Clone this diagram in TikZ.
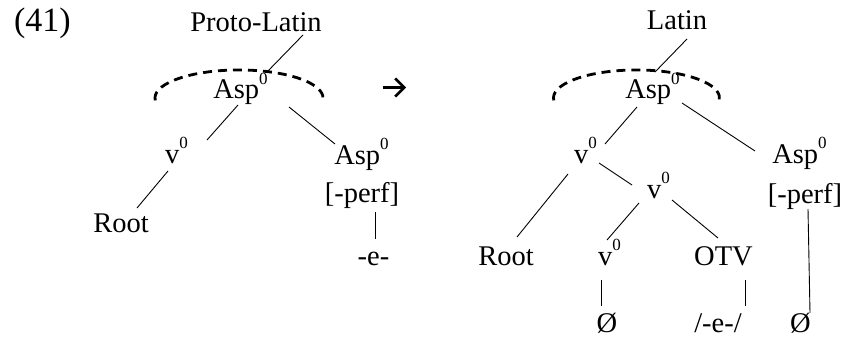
\documentclass[tikz,border=0pt]{standalone}
\usepackage{fontspec}
\usetikzlibrary{arrows.meta}
\setmainfont{Liberation Serif}
\newcommand\zsup[1]{\raisebox{0.52em}{\fontsize{17}{17}\selectfont #1}}
\tikzset{
  lbl/.style={anchor=base, inner sep=0pt, font=\fontsize{28.5}{34}\selectfont},
  edge/.style={line width=0.9pt},
  headarc/.style={line width=2.8pt, dash pattern=on 9pt off 6pt},
  change/.style={line width=2.6pt, -{Straight Barb[length=9pt, width=18pt, line width=2.6pt]}}
}
\begin{document}
\begin{tikzpicture}[x=1pt, y=-1pt]
\useasboundingbox (0,0) rectangle (846,337);

% example number and change arrow
\node[lbl, font=\fontsize{34}{40}\selectfont] (num) at (42.5,32) {(41)};
\coordinate (chgS) at (383,87.5);
\coordinate (chgE) at (406,87.5);
\draw[change] (chgS) -- (chgE);

% Proto-Latin structure
\node[lbl] (pl)    at (256,32)   {Proto-Latin};
\node[lbl] (asp1)  at (240.5,99) {Asp\zsup{0}};
\node[lbl] (v1)    at (176.5,163){v\zsup{0}};
\node[lbl] (aspr1) at (361.5,164){Asp\zsup{0}};
\node[lbl] (perf1) at (362,202)  {[-perf]};
\node[lbl] (e1)    at (373.5,265){-e-};
\node[lbl] (root1) at (121,232)  {Root};

\draw[edge] ([shift={(47,3)}]pl.base)      -- ([shift={(26.5,-27)}]asp1.base);
\draw[edge] ([shift={(-2.5,6)}]asp1.base)  -- ([shift={(30.5,-23)}]v1.base);
\draw[edge] ([shift={(48.5,8)}]asp1.base)  -- ([shift={(-26.5,-20)}]aspr1.base);
\draw[edge] ([shift={(-8.5,8)}]v1.base)    -- ([shift={(16,-24)}]root1.base);
\draw[edge] ([shift={(13,10)}]perf1.base)  -- ([shift={(1.5,-26)}]e1.base);

\draw[headarc] ([shift={(-85.2,1.4)}]asp1.base)
  arc[start angle=185, end angle=-5, x radius=84pt, y radius=28pt];

% Latin structure
\node[lbl] (lat)   at (677,30)    {Latin};
\node[lbl] (asp2)  at (652.5,99)  {Asp\zsup{0}};
\node[lbl] (v2)    at (585.5,163) {v\zsup{0}};
\node[lbl] (aspr2) at (799.5,163) {Asp\zsup{0}};
\node[lbl] (perf2) at (805,203)   {[-perf]};
\node[lbl] (v3)    at (658.5,198) {v\zsup{0}};
\node[lbl] (root2) at (506,265)   {Root};
\node[lbl] (v4)    at (609.5,265) {v\zsup{0}};
\node[lbl] (otv)   at (723.5,265) {OTV};
\node[lbl] (z1)    at (607,332)   {Ø};
\node[lbl] (ee)    at (718,332)   {/-e-/};
\node[lbl] (z2)    at (800.5,332) {Ø};

\draw[edge] ([shift={(10,9)}]lat.base)     -- ([shift={(2.5,-27)}]asp2.base);
\draw[edge] ([shift={(-15.5,8)}]asp2.base) -- ([shift={(19.5,-19)}]v2.base);
\draw[edge] ([shift={(29.5,4)}]asp2.base)  -- ([shift={(-44.5,-12)}]aspr2.base);
\draw[edge] ([shift={(-17.5,11)}]v2.base)  -- ([shift={(11,-28)}]root2.base);
\draw[edge] ([shift={(13.5,0)}]v2.base)    -- ([shift={(-26.5,-13)}]v3.base);
\draw[edge] ([shift={(-19.5,5)}]v3.base)   -- ([shift={(-2.5,-25)}]v4.base);
\draw[edge] ([shift={(13.5,2)}]v3.base)    -- ([shift={(-5.5,-27)}]otv.base);
\draw[edge] ([shift={(-8.5,15)}]v4.base)   -- ([shift={(-6,-26)}]z1.base);
\draw[edge] ([shift={(21.5,15)}]otv.base)  -- ([shift={(27,-26)}]ee.base);
\draw[edge] ([shift={(3,6)}]perf2.base)    -- ([shift={(9.5,-19)}]z2.base);

\draw[headarc] ([shift={(-98.7,1.4)}]asp2.base)
  arc[start angle=185, end angle=-5, x radius=83pt, y radius=28pt];
\end{tikzpicture}
\end{document}
